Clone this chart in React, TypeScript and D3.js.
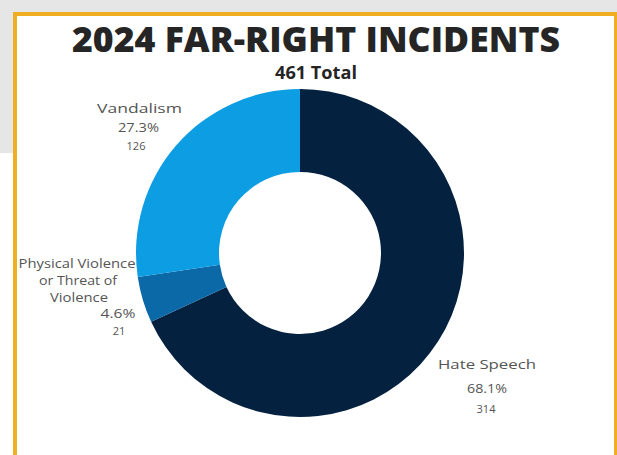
import React from "react";
import * as d3 from "d3";

const categories = ["Hate Speech", "Physical Violence or Threat of Violence", "Vandalism"];
const counts = [314, 21, 126];
const percents = ["68.1%", "4.6%", "27.3%"];
const colors = ["#04213f", "#0b69a7", "#0d9de2"];

const W = 617;
const H = 455;
const cx = 300;
const cy = 253;
const outerR = 164;
const innerR = 81;

// label layout (text lines + positions)
const labelLayout = [
  { lines: [{ t: "Hate Speech", x: 487, y: 369, w: 98 }, { t: "%", x: 487, y: 393, w: 40 }, { t: "#", x: 486, y: 413, small: true }] },
  { lines: [
    { t: "Physical Violence", x: 77, y: 268, w: 117 },
    { t: "or Threat of", x: 78, y: 285, w: 78 },
    { t: "Violence", x: 79, y: 302, w: 58 },
    { t: "%", x: 118, y: 318, w: 35 },
    { t: "#", x: 119, y: 335, small: true },
  ] },
  { lines: [{ t: "Vandalism", x: 139.5, y: 113, w: 85 }, { t: "%", x: 138.5, y: 132, w: 41 }, { t: "#", x: 136, y: 150, small: true }] },
];

export default function App() {
  const pie = d3.pie<number>().sort(null).value((d) => d);
  const arcs = pie(counts);
  const arcGen = d3.arc<d3.PieArcDatum<number>>().innerRadius(innerR).outerRadius(outerR);
  const total = d3.sum(counts);

  return (
    <svg width={W} height={H} style={{ position: "fixed", left: 0, top: 0 }} fontFamily="'Open Sans', sans-serif">
      <rect x={0} y={0} width={W} height={H} fill="#ffffff" />
      <rect x={0} y={0} width={W} height={13} fill="#e6e6e6" />
      <rect x={0} y={0} width={14} height={153} fill="#e6e6e6" />
      <rect x={15} y={14} width={601} height={H + 20} fill="#ffffff" stroke="#f0ae22" strokeWidth={4} />
      <text x={316} y={52} textAnchor="middle" fontSize={35} fontWeight={800} fill="#252525" textLength={488} lengthAdjust="spacingAndGlyphs">
        2024 FAR-RIGHT INCIDENTS
      </text>
      <text x={316} y={79} textAnchor="middle" fontSize={17} fontWeight={700} fill="#252525" textLength={82} lengthAdjust="spacingAndGlyphs">
        {`${total} Total`}
      </text>
      <g transform={`translate(${cx},${cy})`}>
        {arcs.map((a, i) => (
          <path key={categories[i]} d={arcGen(a) || ""} fill={colors[i]} />
        ))}
      </g>
      {labelLayout.map((lab, i) => (
        <g key={i}>
          {lab.lines.map((ln: any, j) => {
            const txt = ln.t === "%" ? percents[i] : ln.t === "#" ? String(counts[i]) : ln.t;
            return ln.small ? (
              <text key={j} x={ln.x} y={ln.y} textAnchor="middle" fontSize={11} fill="#555">
                {txt}
              </text>
            ) : (
              <text key={j} x={ln.x} y={ln.y} textAnchor="middle" fontSize={13.5} fill="#555" textLength={ln.w} lengthAdjust="spacingAndGlyphs">
                {txt}
              </text>
            );
          })}
        </g>
      ))}
    </svg>
  );
}
